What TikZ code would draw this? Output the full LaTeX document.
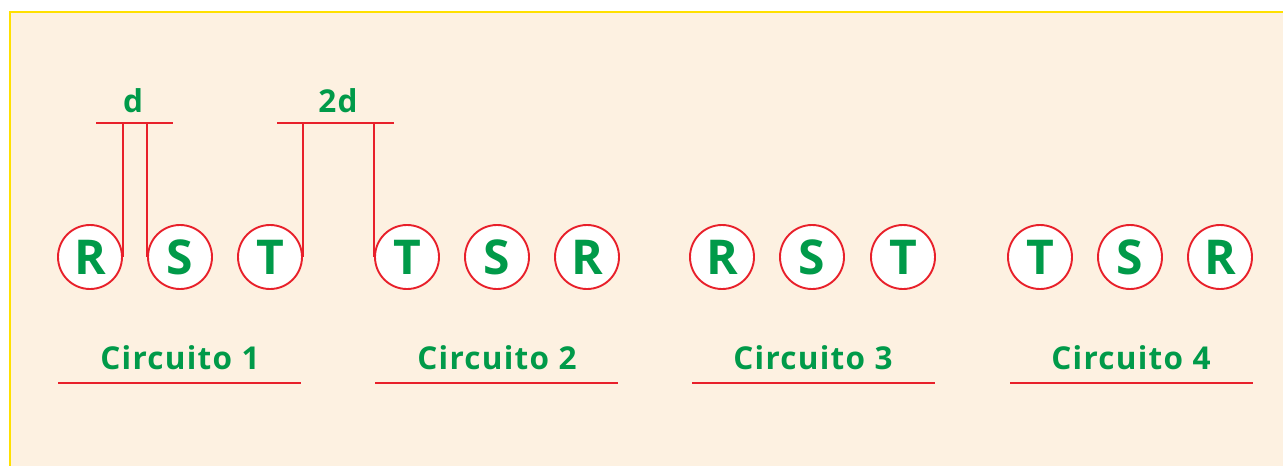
\documentclass[tikz,border=0pt]{standalone}
\usepackage{fontspec}
\setmainfont{Open Sans}[LetterSpace=4]
\definecolor{cream}{HTML}{FDF1E1}
\definecolor{ylw}{HTML}{FFE000}
\definecolor{rd}{HTML}{E8202A}
\definecolor{grn}{HTML}{009A49}
\tikzset{
  phase/.style={circle, draw=rd, line width=1.9pt, fill=white, minimum size=64pt, inner sep=0pt,
    text=grn, font=\fontsize{48}{48}\selectfont\bfseries},
  lbl/.style={text=grn, font=\fontsize{31.5}{31.5}\selectfont\bfseries, inner sep=0pt},
  wire/.style={draw=rd, line width=1.8pt},
  uline/.style={draw=rd, line width=2.2pt}
}
\begin{document}
\begin{tikzpicture}[x=1pt,y=-1pt]
\useasboundingbox (0,0) rectangle (1283,466);
\fill[white] (0,0) rectangle (1283,466);
\fill[cream] (10,12) rectangle (1283,466);
\draw[ylw, line width=2.5pt] (10,466) -- (10,12) -- (1283,12);
% circuit 1
\node[phase] (r1) at (90,257) {R};
\node[phase] (s1) at (180,257) {S};
\node[phase] (t1) at (270,257) {T};
% circuit 2
\node[phase] (t2) at (407,257) {T};
\node[phase] (s2) at (497,257) {S};
\node[phase] (r2) at (587,257) {R};
% circuit 3
\node[phase] (r3) at (722,257) {R};
\node[phase] (s3) at (812,257) {S};
\node[phase] (t3) at (903,257) {T};
% circuit 4
\node[phase] (t4) at (1040,257) {T};
\node[phase] (s4) at (1130,257) {S};
\node[phase] (r4) at (1220,257) {R};
% d dimension
\coordinate (da) at (96,123);
\coordinate (db) at (173,123);
\draw[wire] (da) -- (db);
\draw[wire] (r1.east) -- (r1.east |- da);
\draw[wire] (s1.west) -- (s1.west |- da);
\node[lbl] (dl) at (133,101) {d};
% 2d dimension
\coordinate (ea) at (277,123);
\coordinate (eb) at (394,123);
\draw[wire] (ea) -- (eb);
\draw[wire] (t1.east) -- (t1.east |- ea);
\draw[wire] (t2.west) -- (t2.west |- ea);
\node[lbl] (dl2) at (338,101) {2d};
% labels
\node[lbl] (c1) at (180,357.5) {Circuito 1};
\node[lbl] (c2) at (497,357.5) {Circuito 2};
\node[lbl] (c3) at (813,357.5) {Circuito 3};
\node[lbl] (c4) at (1131,357.5) {Circuito 4};
\draw[uline] (58,383) -- (301,383);
\draw[uline] (375,383) -- (618,383);
\draw[uline] (692,383) -- (935,383);
\draw[uline] (1010,383) -- (1253,383);
\end{tikzpicture}
\end{document}
